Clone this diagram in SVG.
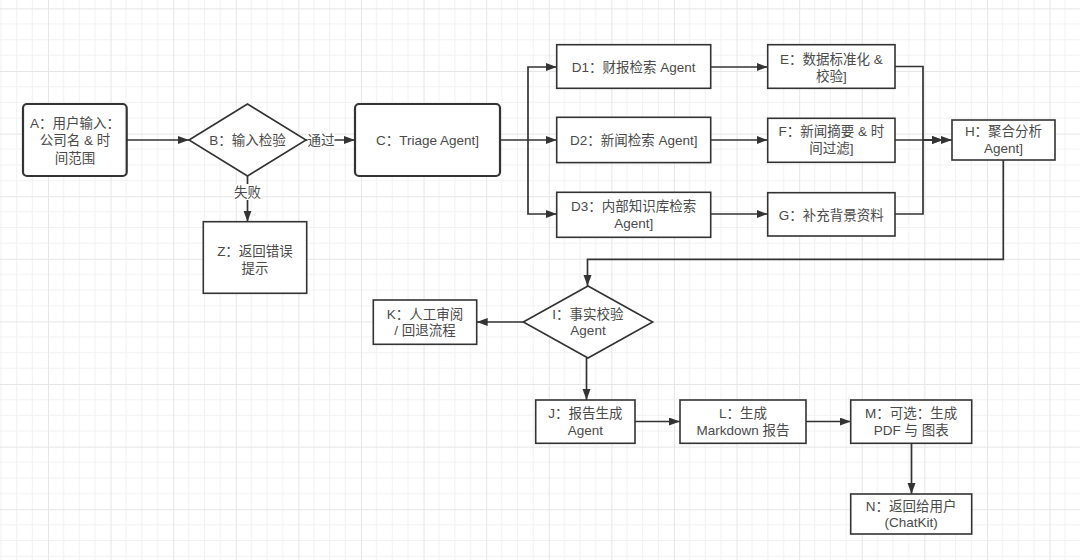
<svg xmlns="http://www.w3.org/2000/svg" width="1080" height="560" viewBox="0 0 1080 560">
<defs>
<pattern id="grid" patternUnits="userSpaceOnUse" x="47.95" y="8.4" width="62.6" height="62.6">
<path d="M15.65,0 V62.6 M31.3,0 V62.6 M46.95,0 V62.6 M0,15.65 H62.6 M0,31.3 H62.6 M0,46.95 H62.6" stroke="#f1f1f1" stroke-width="1" fill="none"/>
<path d="M0.5,0 V62.6 M0,0.5 H62.6" stroke="#e6e6e6" stroke-width="1" fill="none"/>
</pattern>
<marker id="arr" markerUnits="userSpaceOnUse" markerWidth="12" markerHeight="9" refX="11" refY="4" orient="auto">
<path d="M0,0 L11,4 L0,8 z" fill="#333"/>
</marker>
<style>
.box{fill:#fff;stroke:#333;stroke-width:1.6}
.bold{fill:#fff;stroke:#333;stroke-width:2.2}
.t{font-family:"Liberation Sans","Noto Sans CJK SC",sans-serif;font-size:13.5px;fill:#4a4a4a;text-anchor:middle}
.c{fill:none;stroke:#333;stroke-width:1.7}
.lbl{fill:#fff}
</style>
</defs>
<rect x="0" y="0" width="1080" height="560" fill="#fff"/>
<rect x="0" y="0" width="1080" height="560" fill="url(#grid)"/>

<g id="connectors">
<path class="c" d="M126.7,140 H189" marker-end="url(#arr)"/>
<path class="c" d="M306,140 H355" marker-end="url(#arr)"/>
<path class="c" d="M247.5,176 V221.7" marker-end="url(#arr)"/>
<path class="c" d="M500,140 H556.7" marker-end="url(#arr)"/>
<path class="c" d="M528,140 V67 H556.7" marker-end="url(#arr)"/>
<path class="c" d="M528,140 V214 H556.7" marker-end="url(#arr)"/>
<path class="c" d="M710.7,67 H767.7" marker-end="url(#arr)"/>
<path class="c" d="M710.7,140 H767.7" marker-end="url(#arr)"/>
<path class="c" d="M710.7,214 H767.7" marker-end="url(#arr)"/>
<path class="c" d="M895,66.5 H923 V140 H943" marker-end="url(#arr)"/>
<path class="c" d="M895,214 H923 V140 H943" marker-end="url(#arr)"/>
<path class="c" d="M895,140 H952" marker-end="url(#arr)"/>
<path class="c" d="M1003.3,160 V259.3 H587.5 V286" marker-end="url(#arr)"/>
<path class="c" d="M523.3,322 H476.7" marker-end="url(#arr)"/>
<path class="c" d="M586.5,358 V400" marker-end="url(#arr)"/>
<path class="c" d="M635,421.5 H680" marker-end="url(#arr)"/>
<path class="c" d="M806,421.5 H850.7" marker-end="url(#arr)"/>
<path class="c" d="M911.5,443.3 V494" marker-end="url(#arr)"/>
<rect class="lbl" x="307.5" y="132" width="27" height="16"/>
<text class="t" x="321" y="145">通过</text>
<rect class="lbl" x="234" y="184" width="27" height="16"/>
<text class="t" x="247.5" y="197">失败</text>
</g>

<g id="A">
<rect class="bold" x="23" y="104" width="103.7" height="72" rx="4"/>
<text class="t" x="75" y="128">A：用户输入：</text>
<text class="t" x="75" y="145.4">公司名 &amp; 时</text>
<text class="t" x="75" y="163">间范围</text>
</g>
<g id="B">
<polygon class="box" points="189,140 247.5,104 306,140 247.5,176"/>
<text class="t" x="247.5" y="145">B：输入检验</text>
</g>
<g id="C">
<rect class="bold" x="355" y="104" width="145" height="72" rx="4"/>
<text class="t" x="427.5" y="145">C：Triage Agent]</text>
</g>
<g id="Z">
<rect class="box" x="203.3" y="221.7" width="103.4" height="71.6"/>
<text class="t" x="255" y="255.7">Z：返回错误</text>
<text class="t" x="255" y="273">提示</text>
</g>
<g id="D1">
<rect class="box" x="556.7" y="44.7" width="154" height="43.6"/>
<text class="t" x="633.7" y="71.5">D1：财报检索 Agent</text>
</g>
<g id="D2">
<rect class="box" x="556.7" y="117.3" width="154" height="45.3"/>
<text class="t" x="633.7" y="145">D2：新闻检索 Agent]</text>
</g>
<g id="D3">
<rect class="box" x="556.7" y="192.3" width="154" height="45"/>
<text class="t" x="633.7" y="211.4">D3：内部知识库检索</text>
<text class="t" x="633.7" y="227.8">Agent]</text>
</g>
<g id="E">
<rect class="box" x="767.7" y="44.7" width="127.3" height="43.6"/>
<text class="t" x="831.3" y="64">E：数据标准化 &amp;</text>
<text class="t" x="831.3" y="81">校验]</text>
</g>
<g id="F">
<rect class="box" x="767.7" y="118.3" width="127.3" height="44"/>
<text class="t" x="831.3" y="136.4">F：新闻摘要 &amp; 时</text>
<text class="t" x="831.3" y="153">间过滤]</text>
</g>
<g id="G">
<rect class="box" x="767.7" y="192.7" width="127.3" height="43.3"/>
<text class="t" x="831.3" y="219.7">G：补充背景资料</text>
</g>
<g id="H">
<rect class="box" x="952" y="120" width="103" height="40"/>
<text class="t" x="1003.5" y="136.4">H：聚合分析</text>
<text class="t" x="1003.5" y="152.5">Agent]</text>
</g>
<g id="I">
<polygon class="box" points="523.3,322 588,286 652.7,322 588,358"/>
<text class="t" x="588" y="318.7">I：事实校验</text>
<text class="t" x="588" y="334.7">Agent</text>
</g>
<g id="K">
<rect class="box" x="373.3" y="300" width="103.4" height="44.3"/>
<text class="t" x="425" y="318.7">K：人工审阅</text>
<text class="t" x="425" y="335.4">/ 回退流程</text>
</g>
<g id="J">
<rect class="box" x="535.7" y="400" width="99.3" height="43.3"/>
<text class="t" x="585.3" y="418">J：报告生成</text>
<text class="t" x="585.3" y="435.4">Agent</text>
</g>
<g id="L">
<rect class="box" x="680" y="400" width="126" height="43.3"/>
<text class="t" x="743" y="418">L：生成</text>
<text class="t" x="743" y="435.4">Markdown 报告</text>
</g>
<g id="M">
<rect class="box" x="850.7" y="400" width="121" height="43.3"/>
<text class="t" x="911.2" y="418">M：可选：生成</text>
<text class="t" x="911.2" y="435.4">PDF 与 图表</text>
</g>
<g id="N">
<rect class="box" x="850.7" y="494" width="121" height="40"/>
<text class="t" x="911.2" y="510.7">N：返回给用户</text>
<text class="t" x="911.2" y="527.4">(ChatKit)</text>
</g>
</svg>
